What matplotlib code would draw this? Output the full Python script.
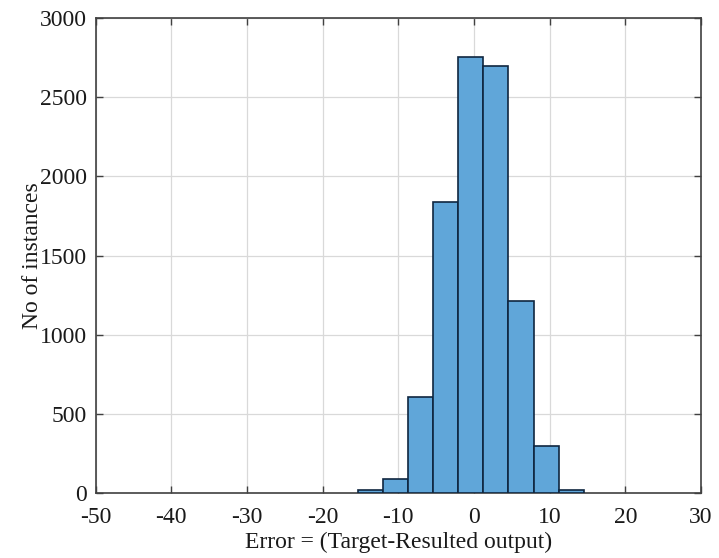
import numpy as np
import matplotlib
matplotlib.use("Agg")
import matplotlib.pyplot as plt

# Histogram of prediction error
bin_edges = [-15.35, -12.03, -8.72, -5.40, -2.08, 1.24, 4.55, 7.87, 11.19, 14.50]
counts = [18, 88, 605, 1840, 2755, 2695, 1210, 300, 16]
x_ticks = [-50, -40, -30, -20, -10, 0, 10, 20, 30]
y_ticks = [0, 500, 1000, 1500, 2000, 2500, 3000]

plt.rcParams["font.family"] = ["Liberation Serif", "DejaVu Serif"]
plt.rcParams["font.size"] = 17

fig = plt.figure(figsize=(7.19, 5.58), dpi=100)
ax = fig.add_axes([0.133, 0.1165, 0.842, 0.851])

edges = np.asarray(bin_edges)
ax.bar(edges[:-1], counts, width=np.diff(edges), align="edge",
       color="#60a6d9", edgecolor="#0f2640", linewidth=1.2, zorder=3)

ax.set_xlim(x_ticks[0], x_ticks[-1])
ax.set_ylim(y_ticks[0], y_ticks[-1])
ax.set_xticks(x_ticks)
ax.set_yticks(y_ticks)
ax.set_xticklabels([str(t) for t in x_ticks])
ax.set_yticklabels([str(t) for t in y_ticks])

ax.grid(True, color="#d9d9d9", linewidth=0.9, zorder=0)
ax.set_axisbelow(True)

for s in ax.spines.values():
    s.set_color("#404040")
    s.set_linewidth(1.2)
ax.tick_params(direction="in", length=5, width=1.0, color="#404040",
               top=True, right=True, labelsize=17, labelcolor="#1a1a1a")
ax.tick_params(axis="x", pad=10)
ax.tick_params(axis="y", pad=6)

ax.set_xlabel("Error = (Target-Resulted output)", fontsize=17, color="#1a1a1a", labelpad=3)
ax.set_ylabel("No of instances", fontsize=17, color="#1a1a1a", labelpad=-2)

fig.savefig("out.png", dpi=100)
